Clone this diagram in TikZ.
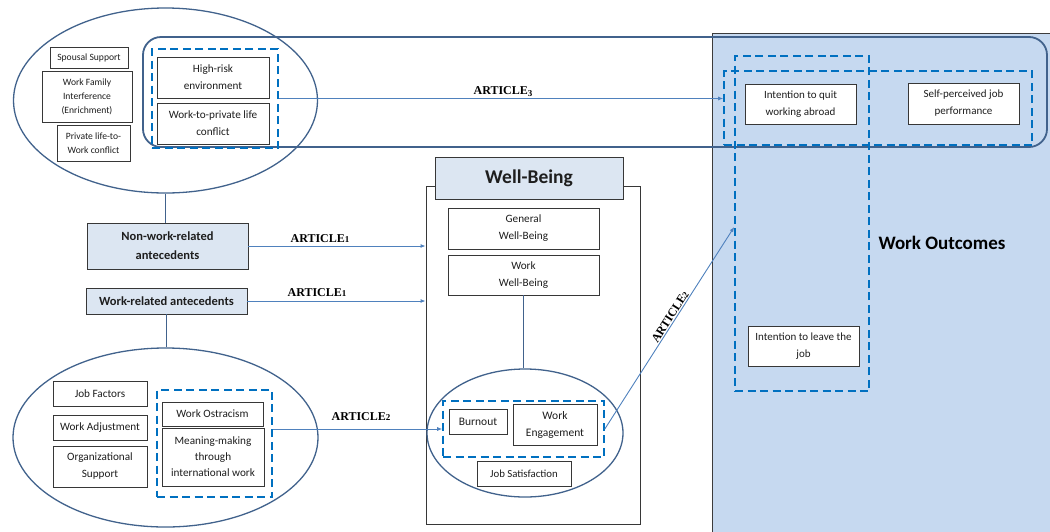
\documentclass[tikz,border=0pt]{standalone}
\usepackage{fontspec}
\setmainfont{Carlito}
\newfontfamily\artfont{Liberation Serif}
\usetikzlibrary{shapes.geometric,arrows.meta}
\definecolor{regionblue}{RGB}{198,217,240}
\definecolor{regionline}{RGB}{60,60,60}
\definecolor{headerfill}{RGB}{220,230,242}
\definecolor{ovalblue}{RGB}{65,98,140}
\definecolor{connblue}{RGB}{79,129,189}
\definecolor{dashblue}{RGB}{0,112,192}
\definecolor{boxline}{RGB}{55,55,55}
\definecolor{txt}{RGB}{30,30,30}
\newcommand\fs[2]{\fontsize{#1}{#2}\selectfont}
\newcommand\artn[1]{{\fs{9}{9}#1}}
\begin{document}
\begin{tikzpicture}[x=1pt,y=-1pt,
  bx/.style={draw=boxline, line width=0.9pt, fill=white, text=txt, align=center, inner sep=0pt, font=\fs{11.2}{17}},
  dbox/.style={draw=dashblue, line width=1.6pt, dash pattern=on 8pt off 4.5pt, inner sep=0pt},
  oval/.style={ellipse, draw=ovalblue, line width=1.3pt, inner sep=0pt},
  plainline/.style={draw=ovalblue, line width=1.3pt},
  conn/.style={draw=connblue, line width=0.9pt, -{Latex[length=5pt,width=4pt]}},
  art/.style={font=\artfont\bfseries\fs{12}{13}, text=black, inner sep=1pt},
  hdr/.style={bx, fill=headerfill, font=\bfseries\fs{12.5}{19}}
]
\useasboundingbox (0,0) rectangle (1050,531);
% Work outcomes region
\draw[fill=regionblue, draw=regionline, line width=0.9pt] (712,33) rectangle (1060,545);
\node[font=\bfseries\fs{19}{22}, text=black] (wolabel) at (942,243) {Work Outcomes};
% big rounded rectangle
\node[draw=ovalblue, line width=1.8pt, rounded corners=18pt, minimum width=904, minimum height=110, inner sep=0pt] (rr) at (595,92) {};
% ellipses
\node[oval, minimum width=304, minimum height=185] (tle) at (165.5,100.5) {};
\node[oval, minimum width=305, minimum height=179] (ble) at (165.5,437.5) {};
% well-being frame
\node[draw=boxline, line width=0.9pt, minimum width=214, minimum height=338, inner sep=0pt] (wbo) at (533,355) {};
\node[bx, fill=headerfill, font=\bfseries\fs{19.5}{22}, minimum width=188, minimum height=42] (wbh) at (529,178) {Well-Being};
\node[oval, minimum width=196, minimum height=128] (wbe) at (525,433) {};
% dashed groups
\node[dbox, minimum width=126, minimum height=99] (dtl) at (215,98.5) {};
\node[dbox, minimum width=308, minimum height=74] (dh) at (878,108) {};
\node[dbox, minimum width=134, minimum height=335] (dv) at (802,223.5) {};
\node[dbox, minimum width=161, minimum height=56] (dwb) at (523.5,429) {};
\node[dbox, minimum width=115, minimum height=107] (dbl) at (214.5,443.5) {};
% top-left boxes
\node[bx, font=\fs{9.6}{14}, minimum width=78, minimum height=21] (ss) at (89,57.5) {Spousal Support};
\node[bx, font=\fs{9.6}{14}, minimum width=90, minimum height=51] (wfi) at (87,96.5) {Work Family\\Interference\\(Enrichment)};
\node[bx, font=\fs{9.6}{14}, minimum width=73, minimum height=36] (pl) at (93.5,143) {Private life-to-\\Work conflict};
\node[bx, minimum width=112, minimum height=41] (hr) at (213,77.5) {High-risk\\environment};
\node[bx, minimum width=112, minimum height=41] (wp) at (213,123.5) {Work-to-private life\\conflict};
% outcome boxes
\node[bx, font=\fs{11}{17}, minimum width=111, minimum height=40] (iq) at (800.5,104) {Intention to quit\\working abroad};
\node[bx, font=\fs{11}{17}, minimum width=111, minimum height=41] (sp) at (963.5,103.5) {Self-perceived job\\performance};
\node[bx, font=\fs{11}{17}, minimum width=111, minimum height=40] (il) at (803.5,346) {Intention to leave the\\job};
% well-being boxes
\node[bx, minimum width=151, minimum height=41] (gwb) at (523.5,228.5) {General\\Well-Being};
\node[bx, minimum width=151, minimum height=40] (wwb) at (523.5,275) {Work\\Well-Being};
\node[bx, font=\fs{11.5}{17}, minimum width=58, minimum height=25] (bo) at (478,421.5) {Burnout};
\node[bx, font=\fs{11.5}{17}, minimum width=84, minimum height=41] (we) at (555,424.5) {Work\\Engagement};
\node[bx, font=\fs{10.8}{17}, minimum width=94, minimum height=25] (js) at (524,473.5) {Job Satisfaction};
% antecedents
\node[hdr, minimum width=161, minimum height=46] (nw) at (167.5,246) {Non-work-related\\antecedents};
\node[hdr, minimum width=161, minimum height=26] (wr) at (166.5,301) {Work-related antecedents};
% bottom-left boxes
\node[bx, minimum width=94, minimum height=25] (jf) at (100,393.5) {Job Factors};
\node[bx, minimum width=94, minimum height=25] (wa) at (100,427.5) {Work Adjustment};
\node[bx, minimum width=94, minimum height=41] (os) at (100,466.5) {Organizational\\Support};
\node[bx, minimum width=101, minimum height=24] (wo) at (212.5,414) {Work Ostracism};
\node[bx, font=\fs{11.2}{16}, minimum width=102, minimum height=58] (mm) at (213,457) {Meaning-making\\through\\international work};
% plain connectors
\draw[plainline] (tle.south) -- (tle.south |- nw.north);
\draw[plainline] (wr.south) -- (wr.south |- ble.north);
\draw[plainline] (wwb.south) -- (wwb.south |- wbe.north);
% arrows
\draw[conn] (dtl.east) -- (dtl.east -| dh.west);
\node[art] (a3) at (503,92) {ARTICLE\raisebox{-2pt}{\artn{3}}};
\draw[conn] (nw.east) -- (nw.east -| wbo.west);
\node[art] (a1a) at (320,239) {ARTICLE\artn{1}};
\draw[conn] (wr.east) -- (wr.east -| wbo.west);
\node[art] (a1b) at (317,293) {ARTICLE\artn{1}};
\draw[conn] (dwb.west -| dbl.east) -- (dwb.west);
\node[art] (a2b) at (361,417) {ARTICLE\artn{2}};
\path (0,227) coordinate (ya2);
\coordinate (a2tip) at (dv.west |- ya2);
\draw[conn] (dwb.east) -- node[art, sloped, above, pos=0.54] (a2d) {ARTICLE\artn{2}} (a2tip);
\end{tikzpicture}
\end{document}
